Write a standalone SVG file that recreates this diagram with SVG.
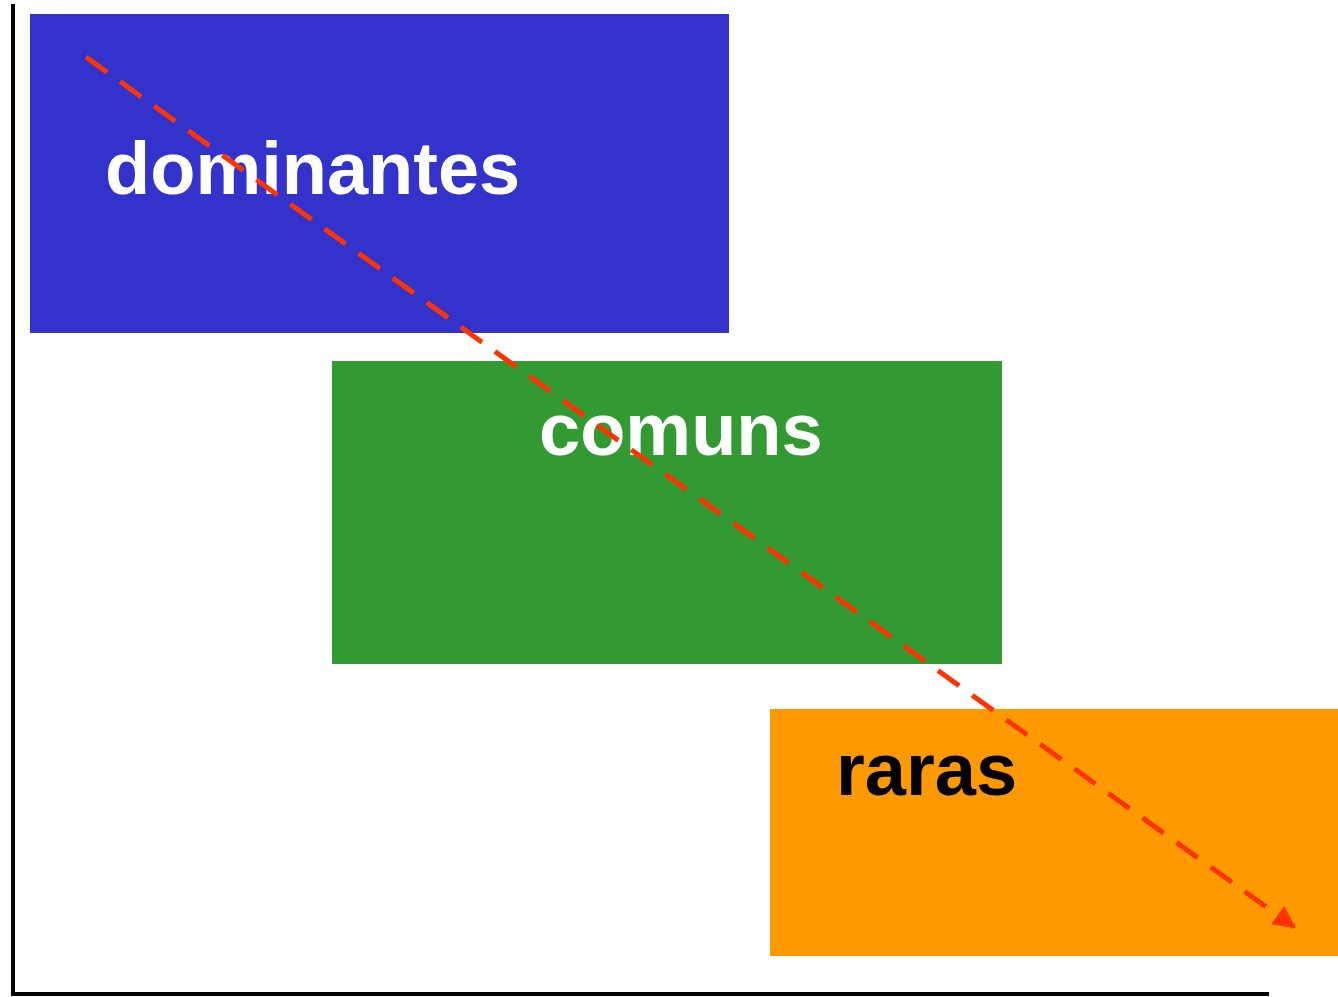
<svg xmlns="http://www.w3.org/2000/svg" width="1338" height="997" viewBox="0 0 1338 997">
  <style>
    .label { font-family: "Liberation Sans", Arial, sans-serif; font-weight: bold; font-size: 74px; }
    .axis { stroke: #000; stroke-width: 4; fill: none; }
    .trend { stroke: #ff3300; stroke-width: 5; stroke-dasharray: 26 16; fill: none; }
  </style>
  <defs>
    <marker id="arrow" viewBox="0 0 10 10" refX="9" refY="5" markerWidth="4.5" markerHeight="4.5" orient="auto" markerUnits="strokeWidth">
      <path d="M0,0 L10,5 L0,10 z" fill="#ff3300"/>
    </marker>
  </defs>

  <!-- axes -->
  <g id="axes">
    <line class="axis" x1="13" y1="4" x2="13" y2="996"/>
    <line class="axis" x1="11" y1="994" x2="1269" y2="994"/>
  </g>

  <g id="dominantes">
    <rect x="30" y="14" width="699" height="319" fill="#3333cc"/>
    <text class="label" x="105" y="194" fill="#ffffff">dominantes</text>
  </g>

  <g id="comuns">
    <rect x="332" y="361" width="670" height="303" fill="#339933"/>
    <text class="label" x="539" y="455" fill="#ffffff">comuns</text>
  </g>

  <g id="raras">
    <rect x="770" y="709" width="568" height="247" fill="#ff9900"/>
    <text class="label" x="836" y="795" fill="#000000">raras</text>
  </g>

  <!-- decreasing trend -->
  <g id="connectors">
    <line class="trend" x1="86" y1="57" x2="1294" y2="927" marker-end="url(#arrow)"/>
  </g>
</svg>
